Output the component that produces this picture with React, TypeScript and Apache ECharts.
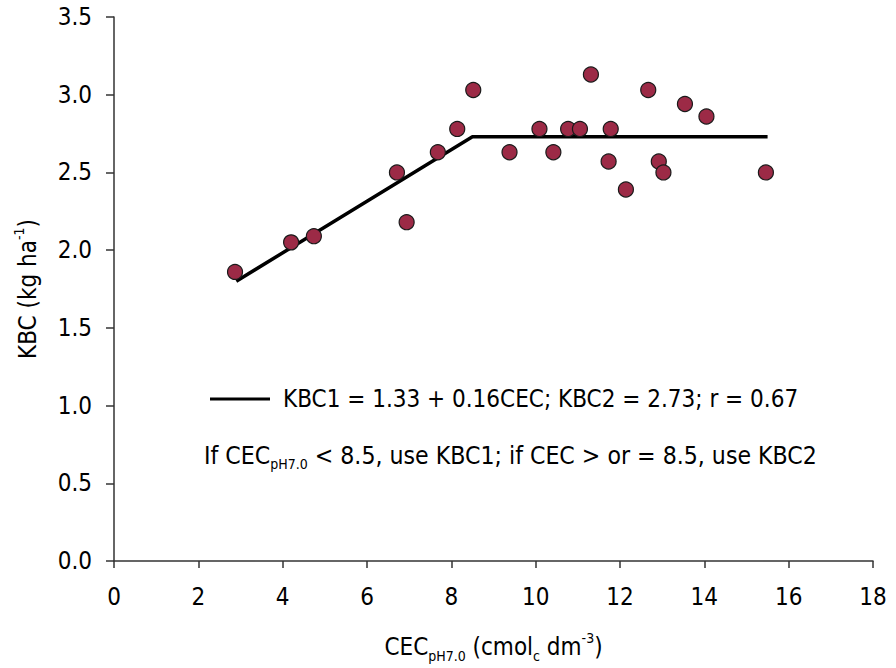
import React, { useEffect, useRef } from "react";
import * as echarts from "echarts";

const cec = [2.87, 4.2, 4.74, 6.71, 6.94, 7.68, 8.14, 8.52, 9.38, 10.09, 10.42, 10.77, 11.05, 11.31, 11.73, 11.78, 12.14, 12.67, 12.92, 13.03, 13.54, 14.05, 15.46];
const kbc = [1.86, 2.05, 2.09, 2.5, 2.18, 2.63, 2.78, 3.03, 2.63, 2.78, 2.63, 2.78, 2.78, 3.13, 2.57, 2.78, 2.39, 3.03, 2.57, 2.5, 2.94, 2.86, 2.5];
const fitX = [2.9, 8.5, 15.5];
const fitY = [1.8, 2.73, 2.73];
const legendText = "KBC1 = 1.33 + 0.16CEC; KBC2 = 2.73; r = 0.67";
const ruleText = ["If CEC", "pH7.0", " < 8.5, use KBC1; if CEC > or = 8.5, use KBC2"];

const FONT = "'DejaVu Sans Condensed', 'DejaVu Sans', sans-serif";
const FS = 24;

export default function App() {
  const ref = useRef<HTMLDivElement>(null);
  useEffect(() => {
    if (!ref.current) return;
    const chart = echarts.init(ref.current, undefined, { renderer: "svg" });
    const rich = {
      n: { fontSize: FS, fontFamily: FONT, color: "#000", lineHeight: 32 },
      m: { fontSize: 24.6, fontFamily: FONT, color: "#000", lineHeight: 32 },
      sub: { fontSize: 14, fontFamily: FONT, color: "#000", lineHeight: 15, verticalAlign: "bottom" },
      sup: { fontSize: 14, fontFamily: FONT, color: "#000", lineHeight: 15, verticalAlign: "top" },
    };
    chart.setOption({
      animation: false,
      backgroundColor: "#fff",
      grid: { left: 114, right: 23, top: 17, bottom: 104, containLabel: false },
      xAxis: {
        type: "value",
        min: 0,
        max: 18,
        interval: 2,
        splitLine: { show: false },
        axisLine: { onZero: false, lineStyle: { color: "#333", width: 1.5 } },
        axisTick: { show: true, length: 7, lineStyle: { color: "#333", width: 1.5 } },
        axisLabel: { fontSize: FS, fontFamily: FONT, color: "#000", margin: 24 },
        name: "{n|CEC}{sub|pH7.0}{n| (cmol}{sub|c}{n| dm}{sup|-3}{n|)}",
        nameLocation: "middle",
        nameGap: 70,
        nameTextStyle: { rich },
      },
      yAxis: {
        type: "value",
        min: 0,
        max: 3.5,
        interval: 0.5,
        splitLine: { show: false },
        axisLine: { onZero: false, lineStyle: { color: "#333", width: 1.5 } },
        axisTick: { show: true, length: 8, lineStyle: { color: "#333", width: 1.5 } },
        axisLabel: {
          fontSize: FS,
          fontFamily: FONT,
          color: "#000",
          margin: 22,
          formatter: (v: number) => v.toFixed(1),
        },
        name: "{n|KBC (kg ha}{sup|-1}{n|)}",
        nameLocation: "middle",
        nameRotate: 90,
        nameGap: 70,
        nameTextStyle: { rich },
      },
      series: [
        {
          type: "line",
          data: fitX.map((x, i) => [x, fitY[i]]),
          symbol: "none",
          lineStyle: { color: "#000", width: 3.5 },
          z: 2,
        },
        {
          type: "scatter",
          data: cec.map((x, i) => [x, kbc[i]]),
          symbol: "circle",
          symbolSize: 15,
          itemStyle: { color: "#9c2a46", borderColor: "#1a1a1a", borderWidth: 1.2, opacity: 1 },
          z: 3,
        },
      ],
      graphic: [
        {
          type: "line",
          shape: { x1: 210, y1: 399, x2: 270, y2: 399 },
          style: { stroke: "#000", lineWidth: 3 },
        },
        {
          type: "text",
          x: 283,
          y: 399,
          style: {
            text: legendText,
            fontSize: FS,
            fontFamily: FONT,
            fill: "#000",
            verticalAlign: "middle",
            textAlign: "left",
          },
        },
        {
          type: "text",
          x: 204,
          y: 455,
          style: {
            text: `{m|${ruleText[0]}}{sub|${ruleText[1]}}{m|${ruleText[2]}}`,
            rich,
            verticalAlign: "middle",
            textAlign: "left",
          },
        },
      ],
    });
    return () => chart.dispose();
  }, []);
  return (
    <div
      ref={ref}
      style={{ position: "fixed", left: 0, top: 0, width: 896, height: 668, background: "#fff" }}
    />
  );
}
